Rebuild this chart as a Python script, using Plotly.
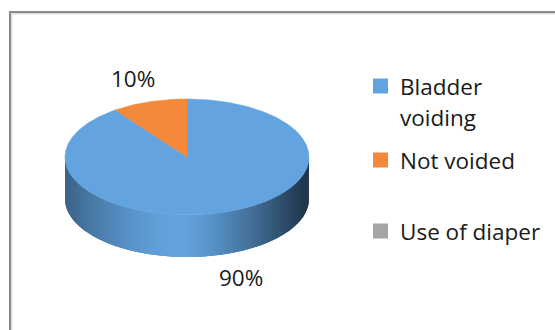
import math
import textwrap
import plotly.graph_objects as go

# ---- data ----
categories = ["Bladder voiding", "Not voided", "Use of diaper"]
values = [90, 10, 0]
colors_top = ["#63A4E0", "#F4883B", "#A5A5A5"]

# ---- geometry / style (pixel units) ----
W, H = 555, 330
CX, CY = 187, 157          # centre of top face
RX, RY = 122, 58           # ellipse radii
DEPTH = 42                 # pie thickness
LABEL_K = 1.42
FONT = "Open Sans"
FS = 22.5
TXT = "#1a1a1a"

total = sum(values)
fracs = [v / total for v in values]
cum = [0]
for f in fracs:
    cum.append(cum[-1] + f)


def pt(phi_deg, k=1.0, dy=0.0):
    p = math.radians(phi_deg)
    return CX + RX * k * math.cos(p), CY - RY * k * math.sin(p) + dy


def phi_of(frac):
    # Excel: start at 12 o'clock, go clockwise
    return 90 - 360 * frac


def slice_at(phi):
    f = ((90 - phi) % 360) / 360
    for i in range(len(values)):
        if cum[i] <= f < cum[i + 1]:
            return i
    return 0


def hex_rgb(h):
    h = h.lstrip("#")
    return [int(h[i:i + 2], 16) for i in (0, 2, 4)]


def shade(hexcol, u):
    # u = cos(phi) in [-1, 1]; bright near centre-left, dark at edges
    peak = -0.05
    if u < peak:
        t = (peak - u) / (1 + peak)
        fac = 1 - 0.40 * (t ** 1.6)
    else:
        t = (u - peak) / (1 - peak)
        fac = 1 - 0.70 * (t ** 1.3)
    r, g, b = hex_rgb(hexcol)
    return "rgb(%d,%d,%d)" % (r * fac, g * fac, b * fac)


def side_poly(a0, a1, steps):
    xs, ys = [], []
    for s in range(steps + 1):
        x, y = pt(a0 + (a1 - a0) * s / steps)
        xs.append(x); ys.append(y)
    for s in range(steps, -1, -1):
        x, y = pt(a0 + (a1 - a0) * s / steps, dy=DEPTH)
        xs.append(x); ys.append(y)
    return xs, ys


fig = go.Figure()

# ---- side of the pie (front half): base + shaded overlapping strips ----
bx, by = side_poly(180, 360, 90)
base_col = shade(colors_top[slice_at(270)], 0.3)
fig.add_trace(go.Scatter(x=bx, y=by, mode="lines", fill="toself",
                         fillcolor=base_col, line=dict(width=0),
                         hoverinfo="skip", showlegend=False))
N = 90
for j in range(N):
    a0 = 180 + 180 * j / N
    a1 = min(360, 180 + 180 * (j + 1.6) / N)
    am = 180 + 180 * (j + 0.5) / N
    idx = slice_at(am)
    col = shade(colors_top[idx], math.cos(math.radians(am)))
    xs, ys = side_poly(a0, a1, 3)
    fig.add_trace(go.Scatter(x=xs, y=ys, mode="lines", fill="toself",
                             fillcolor=col, line=dict(width=0),
                             hoverinfo="skip", showlegend=False))

# ---- top face slices ----
for i, (name, v) in enumerate(zip(categories, values)):
    if v <= 0:
        continue
    p0, p1 = phi_of(cum[i]), phi_of(cum[i + 1])
    n = max(4, int(abs(p1 - p0) * 2))
    xs, ys = [CX], [CY]
    for s in range(n + 1):
        x, y = pt(p0 + (p1 - p0) * s / n)
        xs.append(x); ys.append(y)
    xs.append(CX); ys.append(CY)
    fig.add_trace(go.Scatter(x=xs, y=ys, mode="lines", fill="toself",
                             fillcolor=colors_top[i],
                             line=dict(color=colors_top[i], width=0.6),
                             name=name, hoverinfo="name", showlegend=False))

# ---- percentage labels ----
for i, v in enumerate(values):
    if v <= 0:
        continue
    pm = phi_of((cum[i] + cum[i + 1]) / 2)
    front = math.sin(math.radians(pm)) < 0
    x, y = pt(pm, k=LABEL_K, dy=DEPTH if front else 0)
    fig.add_annotation(x=x, y=y, text="%d%%" % round(v / total * 100),
                       showarrow=False, xanchor="center", yanchor="middle",
                       font=dict(family=FONT, size=FS, color=TXT))

# ---- legend (manual, Excel-like) ----
legend_y = [86, 160, 231]
LX_SQ, LX_TXT, SQ = 373, 398, 15
LINE = 31
for i, name in enumerate(categories):
    y0 = legend_y[i]
    fig.add_shape(type="rect", x0=LX_SQ, x1=LX_SQ + SQ, y0=y0 - SQ / 2,
                  y1=y0 + SQ / 2, fillcolor=colors_top[i], line_width=0)
    for k, line in enumerate(textwrap.wrap(name, 13)):
        fig.add_annotation(x=LX_TXT, y=y0 + k * LINE, text=line,
                           showarrow=False, xanchor="left", yanchor="middle",
                           font=dict(family=FONT, size=FS, color=TXT))

# ---- chart border ----
fig.add_shape(type="rect", x0=10, y0=12, x1=W + 20, y1=H + 20,
              line=dict(color="#8a8a8a", width=2), fillcolor="rgba(0,0,0,0)")
fig.add_shape(type="rect", x0=11.8, y0=13.8, x1=W + 20, y1=H + 20,
              line=dict(color="#d0d0d0", width=1), fillcolor="rgba(0,0,0,0)")

fig.update_layout(
    width=W, height=H, margin=dict(l=0, r=0, t=0, b=0),
    paper_bgcolor="white", plot_bgcolor="white",
    xaxis=dict(range=[0, W], visible=False, fixedrange=True),
    yaxis=dict(range=[H, 0], visible=False, fixedrange=True),
    showlegend=False,
)

fig.write_html("out.html")
